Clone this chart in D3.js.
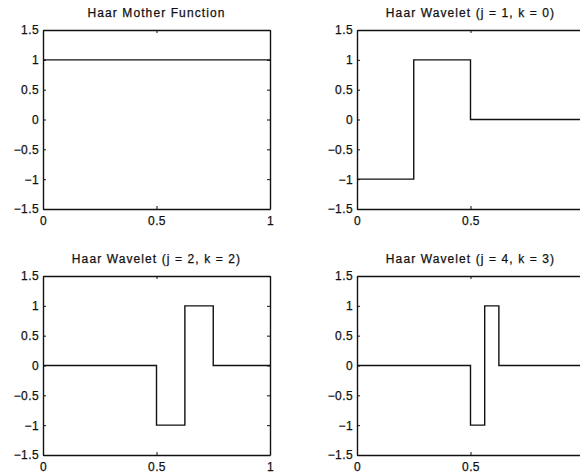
<!DOCTYPE html>
<html>
<head>
<meta charset="utf-8">
<script src="https://cdn.jsdelivr.net/npm/d3@7"></script>
<style>
  html, body { margin: 0; padding: 0; background: #fff; }
  svg { display: block; }
  text { font-family: "Liberation Sans", Arial, Helvetica, sans-serif; fill: #111; stroke: #111; stroke-width: 0.25px; }
</style>
</head>
<body>
<svg id="chart" width="580" height="475"></svg>
<script>
// Haar wavelets sampled as step functions: each point holds its value until the next x.
const titles = [
  "Haar Mother Function",
  "Haar Wavelet (j = 1, k = 0)",
  "Haar Wavelet (j = 2, k = 2)",
  "Haar Wavelet (j = 4, k = 3)"
];
const motherX = [0, 1];
const motherY = [1, 1];
const wave10X = [0, 0.25, 0.5, 1];
const wave10Y = [-1, 1, 0, 0];
const wave22X = [0, 0.5, 0.625, 0.75, 1];
const wave22Y = [0, -1, 1, 0, 0];
const wave43X = [0, 0.5, 0.5625, 0.625, 1];
const wave43Y = [0, -1, 1, 0, 0];
const xTicks = [0, 0.5, 1];
const yTicks = [-1.5, -1, -0.5, 0, 0.5, 1, 1.5];

const seriesX = [motherX, wave10X, wave22X, wave43X];
const seriesY = [motherY, wave10Y, wave22Y, wave43Y];

// Panel frames (left, top) in a 2x2 grid; the right column runs past the page edge
const frames = [
  { left: 43, top: 30 },
  { left: 357, top: 30 },
  { left: 43, top: 276 },
  { left: 357, top: 276 }
];
const W = 227, H = 179, tickLen = 3;
const pageW = 580;

const svg = d3.select("#chart");
const fmt = d => (d < 0 ? "\u2212" : "") + String(Math.abs(d));

frames.forEach((f, i) => {
  const g = svg.append("g").attr("transform", `translate(${f.left},${f.top})`);
  const x = d3.scaleLinear().domain([0, 1]).range([0, W]);
  const y = d3.scaleLinear().domain([-1.5, 1.5]).range([H, 0]);

  // x labels that would fall off the page are left blank
  const xFmt = d => (f.left + x(d) + 3 > pageW ? "" : fmt(d));

  // Box with inward ticks on all four sides
  const bottom = g.append("g").attr("transform", `translate(0,${H})`)
    .call(d3.axisBottom(x).tickValues(xTicks).tickFormat(xFmt).tickSizeInner(-tickLen).tickSizeOuter(0).tickPadding(7));
  const top = g.append("g")
    .call(d3.axisTop(x).tickValues(xTicks).tickFormat("").tickSizeInner(-tickLen).tickSizeOuter(0));
  const left = g.append("g")
    .call(d3.axisLeft(y).tickValues(yTicks).tickFormat(fmt).tickSizeInner(-tickLen).tickSizeOuter(0).tickPadding(4));
  const right = g.append("g").attr("transform", `translate(${W},0)`)
    .call(d3.axisRight(y).tickValues(yTicks).tickFormat("").tickSizeInner(-tickLen).tickSizeOuter(0));

  [bottom, top, left, right].forEach(a => {
    a.select(".domain").attr("stroke", "#111").attr("stroke-width", 1.4);
    a.selectAll(".tick line").attr("stroke", "#111");
    a.selectAll("text").attr("font-size", 12).attr("fill", "#111")
      .attr("letter-spacing", "0.4px")
      .attr("font-family", "'Liberation Sans', Arial, Helvetica, sans-serif");
  });
  left.selectAll(".tick text").attr("dy", "0.32em");

  // Step curve
  const pts = seriesX[i].map((d, k) => [d, seriesY[i][k]]);
  const line = d3.line().x(d => x(d[0])).y(d => y(d[1])).curve(d3.curveStepAfter);
  g.append("path").datum(pts)
    .attr("d", line)
    .attr("fill", "none")
    .attr("stroke", "#111")
    .attr("stroke-width", 1.4);

  g.append("text")
    .attr("x", W / 2).attr("y", -13)
    .attr("text-anchor", "middle")
    .attr("font-size", 12)
    .attr("letter-spacing", "1.1px")
    .text(titles[i]);
});
</script>
</body>
</html>
